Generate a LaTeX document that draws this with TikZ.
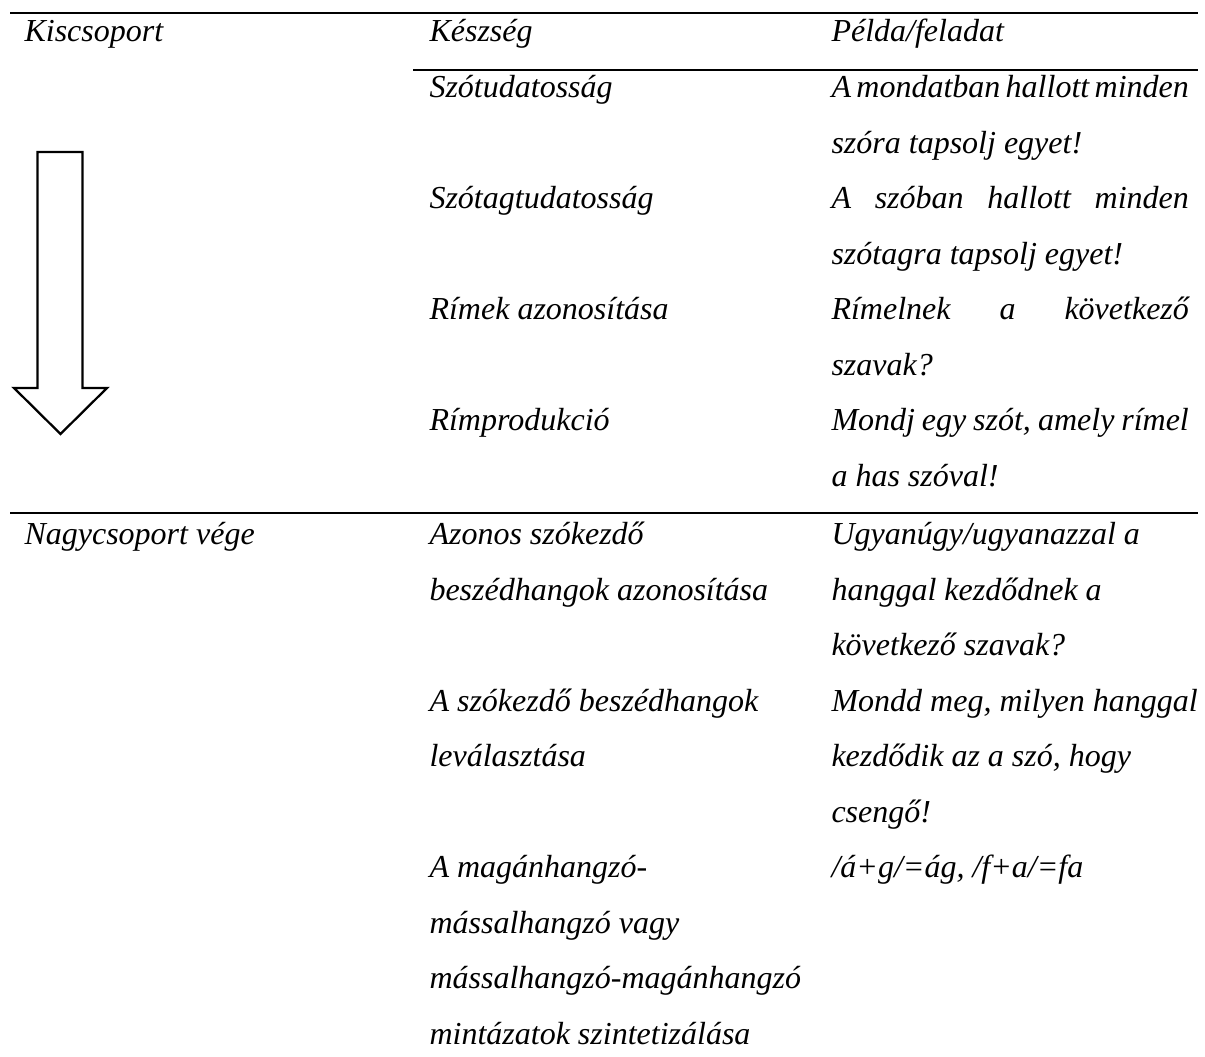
\documentclass[tikz,border=0pt]{standalone}
\usepackage{fontspec}
\setmainfont{Liberation Serif}
\usetikzlibrary{positioning}

\newlength{\peldaw}
\setlength{\peldaw}{134pt}
\newcommand{\just}[1]{\makebox[\peldaw][s]{#1}}

\tikzset{
  cell/.style={anchor=base west, inner sep=0pt, font=\fontsize{12}{14}\selectfont\itshape},
  rule/.style={line width=0.85pt},
  nyil/.style={line width=0.85pt, fill=white}
}

\begin{document}
\begin{tikzpicture}[x=0.375pt, y=-0.375pt]
  \useasboundingbox (0,0) rectangle (1205,1057);

  % ---------- Rules ----------
  \draw[rule] (10,13) -- (1198,13);
  \draw[rule] (413,70) -- (1198,70);
  \draw[rule] (10,513) -- (1198,513);

  % ---------- Header ----------
  \node[cell] at (24,42) (kis) {Kiscsoport};
  \node[cell] at (429,42) (keszseg) {Készség};
  \node[cell] at (831,42) (pelda) {Példa/feladat};

  % ---------- Arrow ----------
  \draw[nyil, line join=miter] (37.5,152) -- (82.5,152) -- (82.5,388) -- (107,388)
    -- (60.5,434) -- (14,388) -- (37.5,388) -- cycle;

  % ---------- Kiscsoport rows ----------
  \node[cell] at (429,98) (szotud) {Szótudatosság};
  \node[cell] at (831,98) (pl1a) {\just{A mondatban hallott minden}};
  \node[cell] at (831,153.5) (pl1b) {szóra tapsolj egyet!};

  \node[cell] at (429,209) (szotag) {Szótagtudatosság};
  \node[cell] at (831,209) (pl2a) {\just{A szóban hallott minden}};
  \node[cell] at (831,264.5) (pl2b) {szótagra tapsolj egyet!};

  \node[cell] at (429,320) (rimek) {Rímek azonosítása};
  \node[cell] at (831,320) (pl3a) {\just{Rímelnek a következő}};
  \node[cell] at (831,375.5) (pl3b) {szavak?};

  \node[cell] at (429,431) (rimprod) {Rímprodukció};
  \node[cell] at (831,431) (pl4a) {\just{Mondj egy szót, amely rímel}};
  \node[cell] at (831,486.5) (pl4b) {a has szóval!};

  % ---------- Nagycsoport rows ----------
  \node[cell] at (24,545) (nagy) {Nagycsoport vége};

  \node[cell] at (429,545) (azonos1) {Azonos szókezdő};
  \node[cell] at (429,600.5) (azonos2) {beszédhangok azonosítása};
  \node[cell] at (831,545) (pl5a) {Ugyanúgy/ugyanazzal a};
  \node[cell] at (831,600.5) (pl5b) {hanggal kezdődnek a};
  \node[cell] at (831,656) (pl5c) {következő szavak?};

  \node[cell] at (429,711.5) (levalaszt1) {A szókezdő beszédhangok};
  \node[cell] at (429,767) (levalaszt2) {leválasztása};
  \node[cell] at (831,711.5) (pl6a) {Mondd meg, milyen hanggal};
  \node[cell] at (831,767) (pl6b) {kezdődik az a szó, hogy};
  \node[cell] at (831,822.5) (pl6c) {csengő!};

  \node[cell] at (429,878) (szint1) {A magánhangzó-};
  \node[cell] at (429,933.5) (szint2) {mássalhangzó vagy};
  \node[cell] at (429,989) (szint3) {mássalhangzó-magánhangzó};
  \node[cell] at (429,1044.5) (szint4) {mintázatok szintetizálása};
  \node[cell] at (831,878) (pl7) {/á+g/=ág, /f+a/=fa};
\end{tikzpicture}
\end{document}
